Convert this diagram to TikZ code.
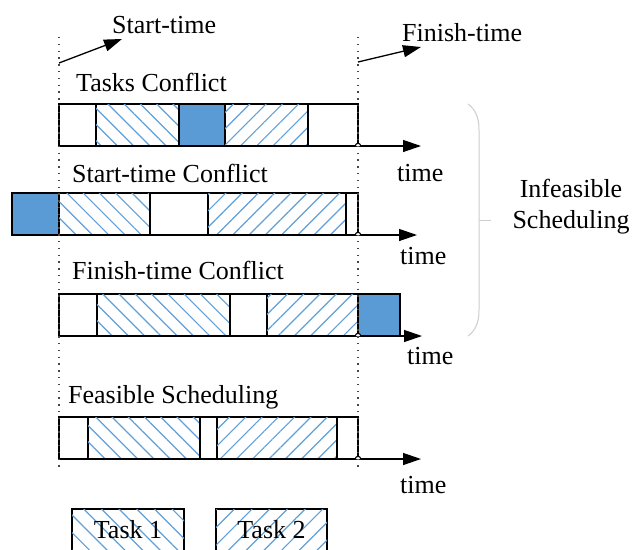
\documentclass[tikz,border=0pt]{standalone}
\usepackage{fontspec}
\setmainfont{Liberation Serif}
\usetikzlibrary{arrows.meta,patterns.meta}
\definecolor{taskblue}{RGB}{91,155,213}
\definecolor{hatchblue}{RGB}{96,160,218}
\definecolor{bracegray}{RGB}{205,205,205}
\definecolor{dotgray}{RGB}{70,70,70}
\begin{document}
\begin{tikzpicture}[x=1pt,y=1pt,
  lbl/.style={font=\fontsize{26}{31}\selectfont, inner sep=0pt, anchor=base west},
  seg/.style={draw=black, line width=1.1pt, minimum height=42pt, inner sep=0pt, outer sep=0pt, anchor=north west},
  emptyseg/.style={seg, fill=white},
  solidseg/.style={seg, fill=taskblue},
  taskA/.style={seg, fill=white, postaction={pattern={Lines[angle=-45,distance=11.5pt,line width=1.2pt]}, pattern color=hatchblue}},
  taskB/.style={seg, fill=white, postaction={pattern={Lines[angle=45,distance=11.5pt,line width=1.2pt]}, pattern color=hatchblue}},
  legA/.style={seg, fill=white, postaction={pattern={Lines[angle=-45,distance=12.5pt,line width=1.2pt]}, pattern color=hatchblue}, font=\fontsize{26}{31}\selectfont},
  legB/.style={seg, fill=white, postaction={pattern={Lines[angle=45,distance=12.5pt,line width=1.2pt]}, pattern color=hatchblue}, font=\fontsize{26}{31}\selectfont},
  axis/.style={line width=1.3pt, -{Triangle[length=18pt,width=12pt]}},
  ptr/.style={line width=1.3pt, -{Triangle[length=18pt,width=12pt]}},
  guide/.style={dotgray, line width=1.1pt, dash pattern=on 1.3pt off 5.5pt},
  bump/.style={line width=1.1pt}
]
\useasboundingbox (0,0) rectangle (644,-549);

% Row 1: Tasks Conflict
\node[emptyseg, minimum width=37pt] (r1a) at (59,-104) {};
\node[taskA, minimum width=83pt] (r1b) at (96,-104) {};
\node[solidseg, minimum width=46pt] (r1c) at (179,-104) {};
\node[taskB, minimum width=83pt] (r1d) at (225,-104) {};
\node[emptyseg, minimum width=50pt] (r1e) at (308,-104) {};

% Row 2: Start-time Conflict
\node[solidseg, minimum width=47pt] (r2a) at (12,-193) {};
\node[taskA, minimum width=91pt] (r2b) at (59,-193) {};
\node[emptyseg, minimum width=58pt] (r2c) at (150,-193) {};
\node[taskB, minimum width=138pt] (r2d) at (208,-193) {};
\node[emptyseg, minimum width=12pt] (r2e) at (346,-193) {};

% Row 3: Finish-time Conflict
\node[emptyseg, minimum width=38pt] (r3a) at (59,-294) {};
\node[taskA, minimum width=133pt] (r3b) at (97,-294) {};
\node[emptyseg, minimum width=37pt] (r3c) at (230,-294) {};
\node[taskB, minimum width=91pt] (r3d) at (267,-294) {};
\node[solidseg, minimum width=42pt] (r3e) at (358,-294) {};

% Row 4: Feasible Scheduling
\node[emptyseg, minimum width=29pt] (r4a) at (59,-417) {};
\node[taskA, minimum width=112pt] (r4b) at (88,-417) {};
\node[emptyseg, minimum width=17pt] (r4c) at (200,-417) {};
\node[taskB, minimum width=120pt] (r4d) at (217,-417) {};
\node[emptyseg, minimum width=21pt] (r4e) at (337,-417) {};

% time axes
\coordinate (t1) at (421,-146);
\coordinate (t2) at (417,-235);
\coordinate (t3) at (422,-336);
\coordinate (t4) at (421,-459);
\draw[axis] (r1a.south west) -- (t1);
\draw[axis] (r2a.south west) -- (t2);
\draw[axis] (r3a.south west) -- (t3);
\draw[axis] (r4a.south west) -- (t4);

% guide lines
\coordinate (L1) at (59,-37);
\coordinate (L2) at (59,-467);
\coordinate (R1) at (358,-37);
\coordinate (R2) at (358,-467);
\draw[guide] (L1) -- (L2);
\draw[guide] (R1) -- (R2);

% jumps where the axes cross the finish-time line
\foreach \yy in {146,235,336,459}{
  \fill[white] (355.3,-\yy) arc (180:0:2.7);
  \draw[bump] (355.3,-\yy) arc (180:0:2.7);
}

% start / finish pointers
\coordinate (sa) at (59,-63);
\coordinate (sb) at (122,-39);
\coordinate (fa) at (358,-62);
\coordinate (fb) at (421,-47);
\draw[ptr] (sa) -- (sb);
\draw[ptr] (fa) -- (fb);
\node[lbl] (stl) at (112,-33) {Start-time};
\node[lbl] (ftl) at (402,-41) {Finish-time};

% row titles
\node[lbl] (n1) at (76,-91) {Tasks Conflict};
\node[lbl] (n2) at (72,-182) {Start-time Conflict};
\node[lbl] (n3) at (72,-279) {Finish-time Conflict};
\node[lbl] (n4) at (68,-403) {Feasible Scheduling};

% time labels
\node[lbl] (tl1) at (397,-181) {time};
\node[lbl] (tl2) at (400,-264) {time};
\node[lbl] (tl3) at (407,-364) {time};
\node[lbl] (tl4) at (400,-493) {time};

% brace
\draw[bracegray, line width=1pt] (468,-104) .. controls (476,-110) and (479,-118) .. (479,-130) -- (479,-310) .. controls (479,-322) and (476,-330) .. (468,-336);
\draw[bracegray, line width=1pt] (479,-220) -- (491,-220);
\node[font=\fontsize{26}{31}\selectfont, align=center, inner sep=0pt] (inf) at (571,-207) {Infeasible\\Scheduling};

% legend
\node[legA, minimum width=112pt] (lg1) at (72,-509) {Task 1};
\node[legB, minimum width=111pt] (lg2) at (216,-509) {Task 2};
\end{tikzpicture}
\end{document}
